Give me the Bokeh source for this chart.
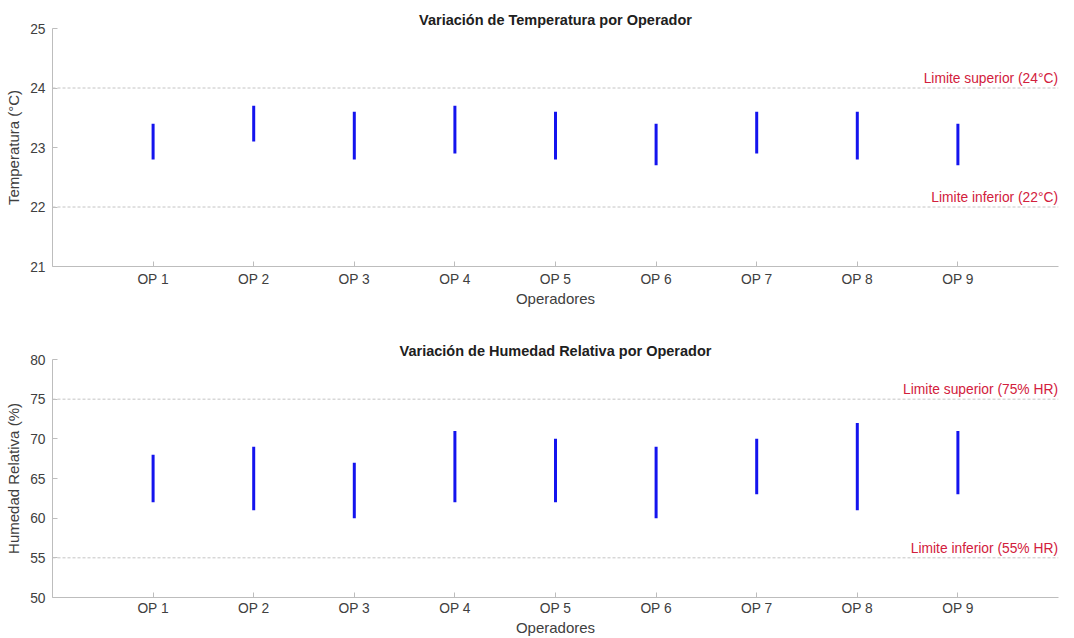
from bokeh.plotting import figure
from bokeh.layouts import column
from bokeh.models import Range1d, FixedTicker, Span, Label
from bokeh.embed import file_html
from bokeh.resources import INLINE

operadores = ["OP 1", "OP 2", "OP 3", "OP 4", "OP 5", "OP 6", "OP 7", "OP 8", "OP 9"]
temp_min = [22.8, 23.1, 22.8, 22.9, 22.8, 22.7, 22.9, 22.8, 22.7]
temp_max = [23.4, 23.7, 23.6, 23.7, 23.6, 23.4, 23.6, 23.6, 23.4]
hum_min = [62, 61, 60, 62, 62, 60, 63, 61, 63]
hum_max = [68, 69, 67, 71, 70, 69, 70, 72, 71]
temp_limits = [22, 24]
hum_limits = [55, 75]
temp_limit_labels = ["Limite inferior (22°C)", "Limite superior (24°C)"]
hum_limit_labels = ["Limite inferior (55% HR)", "Limite superior (75% HR)"]

FONT = "Liberation Sans"
AXIS_COL = "#bdbdbd"
TXT_COL = "#404040"
RED = "#d2203c"


def make_fig(title, ylabel, ymin, ymax, yticks, lo, hi, limits, limit_labels,
             height, top, bottom, xstandoff):
    p = figure(width=1074, height=height, output_backend="svg",
               toolbar_location=None, x_range=Range1d(0, 10),
               y_range=Range1d(ymin, ymax),
               min_border_left=52, min_border_right=16,
               min_border_top=top, min_border_bottom=bottom)
    p.title.text = title
    p.title.align = "center"
    p.title.text_font = FONT
    p.title.text_font_size = "14.5px"
    p.title.text_font_style = "bold"
    p.title.text_color = "#202020"
    p.title.offset = 0
    p.title.standoff = 1
    p.outline_line_color = None
    p.xgrid.visible = False
    p.ygrid.visible = False
    p.background_fill_color = "white"
    p.border_fill_color = "white"

    xs = list(range(1, len(operadores) + 1))
    p.segment(x0=xs, y0=lo, x1=xs, y1=hi, line_color="#1414ee", line_width=3)

    for v, lab in zip(limits, limit_labels):
        p.add_layout(Span(location=v, dimension="width", line_color="#c4c4c4",
                          line_dash="3 2", line_width=1))
        p.add_layout(Label(x=9.995, y=v, text=lab, text_align="right",
                           text_baseline="bottom", y_offset=2,
                           text_font=FONT, text_font_size="13.8px",
                           text_color=RED))

    p.xaxis.ticker = FixedTicker(ticks=xs)
    p.xaxis.major_label_overrides = {x: n for x, n in zip(xs, operadores)}
    p.yaxis.ticker = FixedTicker(ticks=yticks)
    for ax in (p.xaxis, p.yaxis):
        ax.axis_line_color = AXIS_COL
        ax.major_tick_line_color = AXIS_COL
        ax.major_tick_in = 5
        ax.major_tick_out = 0
        ax.minor_tick_line_color = None
        ax.major_label_text_font = FONT
        ax.major_label_text_font_size = "13.8px"
        ax.major_label_text_color = TXT_COL
        ax.axis_label_text_font = FONT
        ax.axis_label_text_font_size = "15px"
        ax.axis_label_text_font_style = "normal"
        ax.axis_label_text_color = TXT_COL
    p.xaxis.axis_label = "Operadores"
    p.yaxis.axis_label = ylabel
    p.xaxis.major_label_standoff = xstandoff
    p.xaxis.axis_label_standoff = 0
    p.yaxis.major_label_standoff = 7
    p.yaxis.axis_label_standoff = 5
    return p


p1 = make_fig("Variación de Temperatura por Operador", "Temperatura (°C)",
              21, 25, [21, 22, 23, 24, 25], temp_min, temp_max,
              temp_limits, temp_limit_labels, 330, 28, 64, 5)
p2 = make_fig("Variación de Humedad Relativa por Operador", "Humedad Relativa (%)",
              50, 80, [50, 55, 60, 65, 70, 75, 80], hum_min, hum_max,
              hum_limits, hum_limit_labels, 308, 29, 41, 3)

layout = column(p1, p2, spacing=0)
open("out.html", "w").write(file_html(layout, INLINE))
